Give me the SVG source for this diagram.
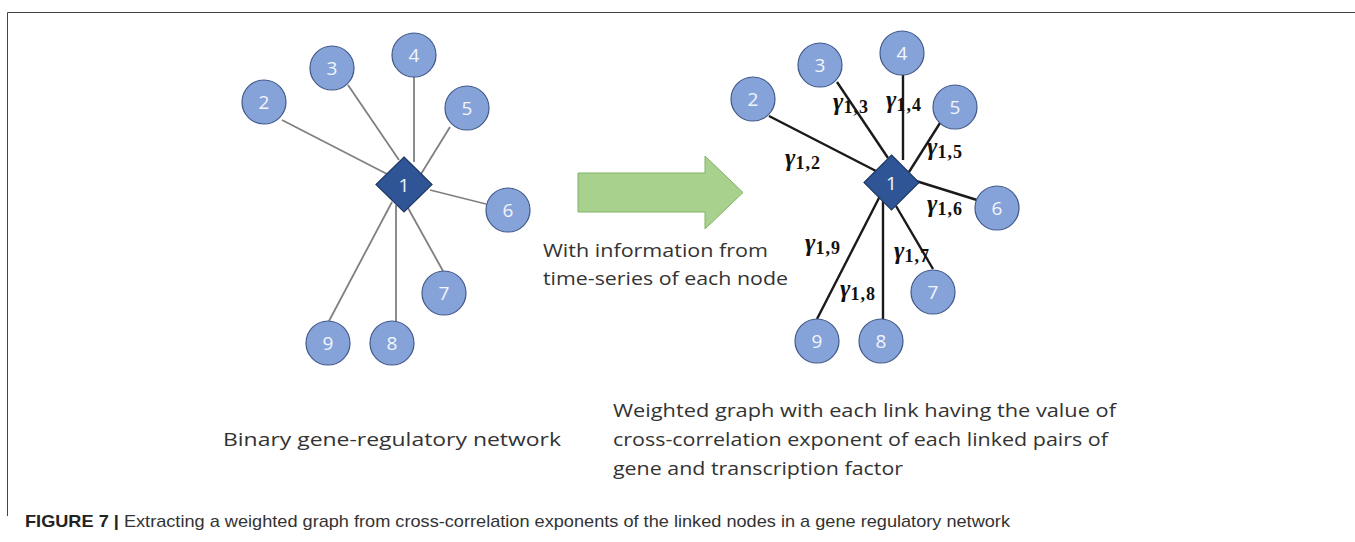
<svg xmlns="http://www.w3.org/2000/svg" width="1355" height="542" viewBox="0 0 1355 542">
  <style>
    .frame { stroke: #444; stroke-width: 1; fill: none; }
    .gray-link { stroke: #808080; stroke-width: 1.8; }
    .black-link { stroke: #1a1a1a; stroke-width: 2.4; }
    .gene { fill: #86a3d9; stroke: #41598a; stroke-width: 1.2; }
    .hub { fill: #2f5597; stroke: #1f3864; stroke-width: 1.2; }
    .num { font-family: "Open Sans", "Liberation Sans", sans-serif; font-size: 19px; fill: #f2f5fb; text-anchor: middle; }
    .gamma { font-family: "Liberation Serif", "DejaVu Serif", serif; font-size: 25px; font-weight: bold; font-style: italic; fill: #111; }
    .sub { font-family: "Liberation Serif", "DejaVu Serif", serif; font-size: 18px; font-weight: bold; font-style: normal; letter-spacing: 1px; }
    .body { font-family: "Open Sans", "Liberation Sans", sans-serif; font-size: 19px; fill: #333; }
    .cap { font-family: "Liberation Sans", Arial, sans-serif; font-size: 17px; fill: #333; }
    .cap-bold { font-weight: bold; fill: #222; }
  </style>

  <!-- page frame: top rule and left rule -->
  <g id="frame">
    <line class="frame" x1="7.5" y1="12.5" x2="1355" y2="12.5"/>
    <line class="frame" x1="7.5" y1="12.5" x2="7.5" y2="516"/>
  </g>

  <!-- links of the binary network (left) and the weighted graph (right) -->
  <g id="connectors">
    <g id="binary-links">
      <line class="gray-link" x1="282" y1="120" x2="387" y2="174"/>
      <line class="gray-link" x1="348" y1="85" x2="399" y2="160"/>
      <line class="gray-link" x1="414" y1="77" x2="414" y2="162"/>
      <line class="gray-link" x1="450" y1="127" x2="421" y2="174"/>
      <line class="gray-link" x1="430" y1="190" x2="486" y2="204"/>
      <line class="gray-link" x1="408" y1="208" x2="443" y2="271"/>
      <line class="gray-link" x1="396" y1="205" x2="396" y2="321"/>
      <line class="gray-link" x1="392" y1="202" x2="329" y2="321"/>
    </g>
    <g id="weighted-links">
      <line class="black-link" x1="769" y1="116" x2="876" y2="171"/>
      <line class="black-link" x1="837" y1="82" x2="888" y2="158"/>
      <line class="black-link" x1="903" y1="75" x2="903" y2="160"/>
      <line class="black-link" x1="940" y1="123" x2="909" y2="172"/>
      <line class="black-link" x1="916" y1="181" x2="977" y2="200"/>
      <line class="black-link" x1="896" y1="206" x2="933" y2="269"/>
      <line class="black-link" x1="883" y1="198" x2="883" y2="319"/>
      <line class="black-link" x1="880" y1="196" x2="817" y2="319"/>
    </g>
  </g>

  <!-- binary gene-regulatory network -->
  <g id="b-node-2"><circle class="gene" cx="264" cy="102" r="22"/><text class="num" x="264" y="109">2</text></g>
  <g id="b-node-3"><circle class="gene" cx="332" cy="68" r="22"/><text class="num" x="332" y="75">3</text></g>
  <g id="b-node-4"><circle class="gene" cx="414" cy="55" r="22"/><text class="num" x="414" y="62">4</text></g>
  <g id="b-node-5"><circle class="gene" cx="467" cy="108" r="22"/><text class="num" x="467" y="115">5</text></g>
  <g id="b-node-6"><circle class="gene" cx="508" cy="210" r="22"/><text class="num" x="508" y="217">6</text></g>
  <g id="b-node-7"><circle class="gene" cx="444" cy="293" r="22"/><text class="num" x="444" y="300">7</text></g>
  <g id="b-node-8"><circle class="gene" cx="392" cy="343" r="22"/><text class="num" x="392" y="350">8</text></g>
  <g id="b-node-9"><circle class="gene" cx="328" cy="343" r="22"/><text class="num" x="328" y="350">9</text></g>
  <g id="b-node-1"><polygon class="hub" points="404,157 432,184.5 404,212 376,184.5"/><text class="num" x="404" y="192">1</text></g>

  <!-- transformation arrow -->
  <g id="arrow">
    <polygon points="578,173 705,173 705,156 743,192.5 705,229 705,212 578,212" fill="#a9d18e" stroke="#82b366" stroke-width="1"/>
    <text class="body" x="543" y="257" textLength="225" lengthAdjust="spacingAndGlyphs">With information from</text>
    <text class="body" x="543" y="285" textLength="245" lengthAdjust="spacingAndGlyphs">time-series of each node</text>
  </g>

  <!-- weighted graph -->
  <g id="w-node-2"><circle class="gene" cx="753" cy="99" r="22"/><text class="num" x="753" y="106">2</text></g>
  <g id="w-node-3"><circle class="gene" cx="820" cy="65" r="22"/><text class="num" x="820" y="72">3</text></g>
  <g id="w-node-4"><circle class="gene" cx="902" cy="53" r="22"/><text class="num" x="902" y="60">4</text></g>
  <g id="w-node-5"><circle class="gene" cx="955" cy="107" r="22"/><text class="num" x="955" y="114">5</text></g>
  <g id="w-node-6"><circle class="gene" cx="997" cy="208" r="22"/><text class="num" x="997" y="215">6</text></g>
  <g id="w-node-7"><circle class="gene" cx="933" cy="292" r="22"/><text class="num" x="933" y="299">7</text></g>
  <g id="w-node-8"><circle class="gene" cx="881" cy="341" r="22"/><text class="num" x="881" y="348">8</text></g>
  <g id="w-node-9"><circle class="gene" cx="817" cy="341" r="22"/><text class="num" x="817" y="348">9</text></g>
  <g id="w-node-1"><polygon class="hub" points="891.5,155 919,182.5 891.5,210 864,182.5"/><text class="num" x="891.5" y="190">1</text></g>

  <!-- link weights: cross-correlation exponents -->
  <g id="weights">
    <text class="gamma" x="785" y="166">γ<tspan class="sub" dy="3">1,2</tspan></text>
    <text class="gamma" x="833" y="110">γ<tspan class="sub" dy="3">1,3</tspan></text>
    <text class="gamma" x="886" y="108">γ<tspan class="sub" dy="3">1,4</tspan></text>
    <text class="gamma" x="927" y="155">γ<tspan class="sub" dy="3">1,5</tspan></text>
    <text class="gamma" x="927" y="212">γ<tspan class="sub" dy="3">1,6</tspan></text>
    <text class="gamma" x="805" y="251">γ<tspan class="sub" dy="3">1,9</tspan></text>
    <text class="gamma" x="894" y="259">γ<tspan class="sub" dy="3">1,7</tspan></text>
    <text class="gamma" x="840" y="297">γ<tspan class="sub" dy="3">1,8</tspan></text>
  </g>

  <!-- panel captions -->
  <g id="labels">
    <text class="body" x="223" y="446" textLength="338" lengthAdjust="spacingAndGlyphs">Binary gene-regulatory network</text>
    <text class="body" x="613" y="417" textLength="503" lengthAdjust="spacingAndGlyphs">Weighted graph with each link having the value of</text>
    <text class="body" x="613" y="446" textLength="495" lengthAdjust="spacingAndGlyphs">cross-correlation exponent of each linked pairs of</text>
    <text class="body" x="613" y="475" textLength="290" lengthAdjust="spacingAndGlyphs">gene and transcription factor</text>
  </g>

  <!-- figure caption -->
  <g id="caption">
    <text class="cap" x="25" y="527" textLength="985" lengthAdjust="spacingAndGlyphs"><tspan class="cap-bold">FIGURE 7 |</tspan> Extracting a weighted graph from cross-correlation exponents of the linked nodes in a gene regulatory network</text>
  </g>
</svg>
